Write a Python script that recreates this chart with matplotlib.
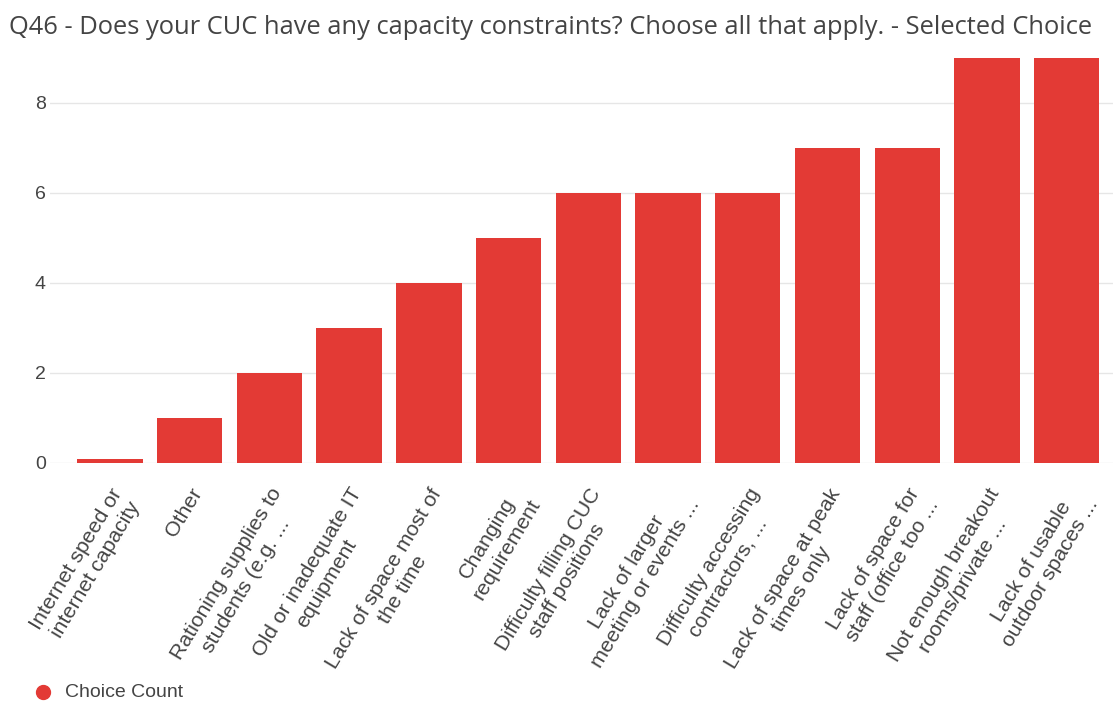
import matplotlib
matplotlib.use("Agg")
import matplotlib.pyplot as plt
from matplotlib.lines import Line2D

categories = [
    "Internet speed or\ninternet capacity",
    "Other",
    "Rationing supplies to\nstudents (e.g. ...",
    "Old or inadequate IT\nequipment",
    "Lack of space most of\nthe time",
    "Changing\nrequirement",
    "Difficulty filling CUC\nstaff positions",
    "Lack of larger\nmeeting or events ...",
    "Difficulty accessing\ncontractors, ...",
    "Lack of space at peak\ntimes only",
    "Lack of space for\nstaff (office too ...",
    "Not enough breakout\nrooms/private ...",
    "Lack of usable\noutdoor spaces ...",
]
choice_count = [0.07, 1, 2, 3, 4, 5, 6, 6, 6, 7, 7, 9, 9]
y_ticks = [0, 2, 4, 6, 8]

title = "Q46 - Does your CUC have any capacity constraints? Choose all that apply. - Selected Choice"
series_name = "Choice Count"

RED = "#e33a35"
GRID = "#e6e6e6"
TEXT = "#444444"

fig = plt.figure(figsize=(11.13, 7.02), dpi=100)
ax = fig.add_axes([0.045, 0.341, 0.955, 0.577])

x = list(range(len(categories)))
ax.bar(x, choice_count, width=0.82, color=RED, zorder=3)

ax.set_xlim(-0.75, 12.58)
ax.set_ylim(0, 9)
ax.set_yticks(y_ticks)
ax.yaxis.grid(True, color=GRID, linewidth=1, zorder=0)
ax.set_axisbelow(True)
for s in ax.spines.values():
    s.set_visible(False)
ax.tick_params(axis="y", length=0, pad=3, labelsize=14, labelcolor=TEXT)
ax.tick_params(axis="x", length=0, pad=16)
ax.set_xticks(x)
ax.set_xticklabels(categories, rotation=59, ha="right", rotation_mode="anchor",
                   fontsize=15.3, color=TEXT, family="Liberation Sans",
                   multialignment="center", linespacing=1.2)
for lbl in ax.get_yticklabels():
    lbl.set_family("Liberation Sans")

fig.text(0.008, 0.961, title, fontsize=18.4, color=TEXT, family="Open Sans",
         ha="left", va="center")

fig.lines.append(Line2D([0.039], [0.014], marker="o", markersize=10,
                        color=RED, transform=fig.transFigure))
fig.text(0.058, 0.014, series_name, fontsize=14, color=TEXT,
         family="Liberation Sans", ha="left", va="center")

fig.savefig("out.png", dpi=100, facecolor="white")
